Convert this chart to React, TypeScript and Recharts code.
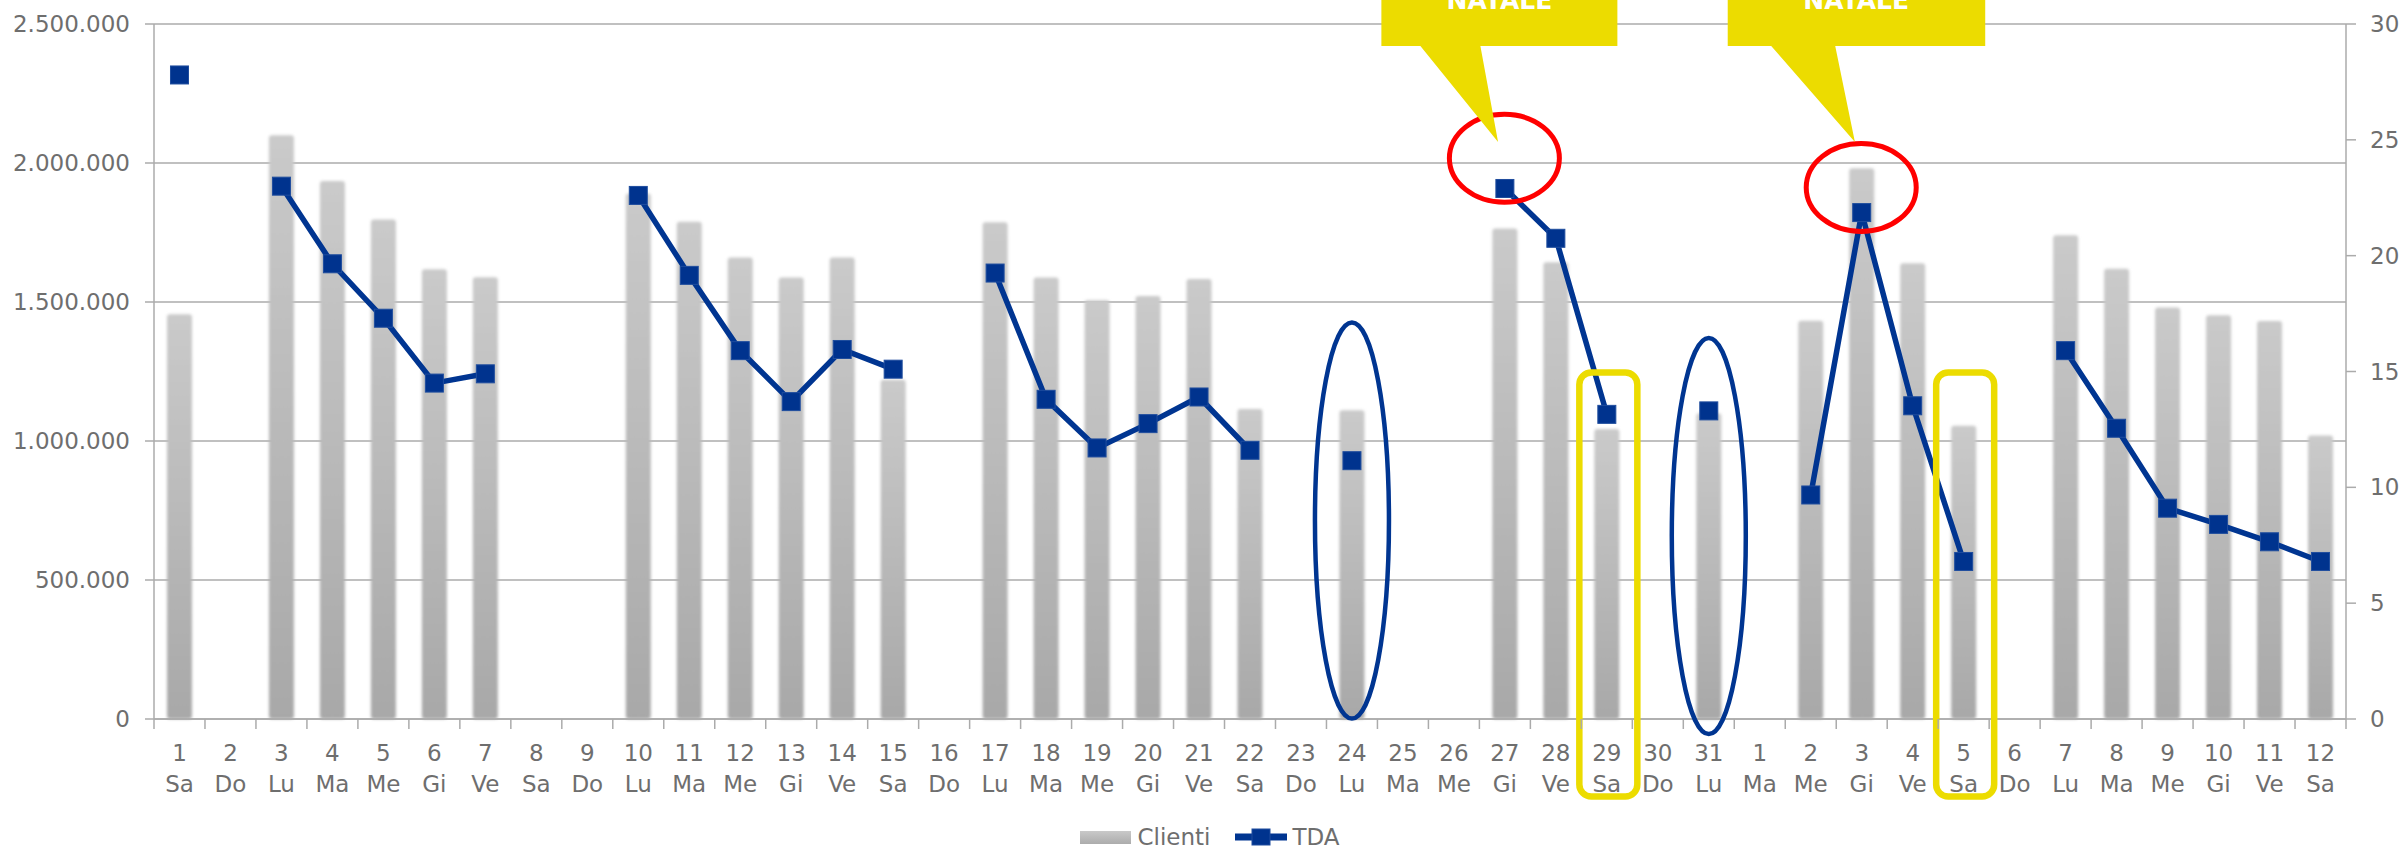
import { ComposedChart, Bar, Line, XAxis, YAxis, CartesianGrid, Legend, ReferenceDot } from 'recharts'

// dicembre 1..31, gennaio 1..12
const DAYS = [
  1, 2, 3, 4, 5, 6, 7, 8, 9, 10, 11, 12, 13, 14, 15, 16, 17, 18, 19, 20, 21, 22, 23, 24, 25, 26, 27, 28, 29, 30, 31,
  1, 2, 3, 4, 5, 6, 7, 8, 9, 10, 11, 12,
]
const MONTHS = [
  12, 12, 12, 12, 12, 12, 12, 12, 12, 12, 12, 12, 12, 12, 12, 12, 12, 12, 12, 12, 12, 12, 12, 12, 12, 12, 12, 12, 12, 12, 12,
  1, 1, 1, 1, 1, 1, 1, 1, 1, 1, 1, 1,
]
const WEEKDAYS = [
  'Sa', 'Do', 'Lu', 'Ma', 'Me', 'Gi', 'Ve', 'Sa', 'Do', 'Lu', 'Ma', 'Me', 'Gi', 'Ve', 'Sa', 'Do',
  'Lu', 'Ma', 'Me', 'Gi', 'Ve', 'Sa', 'Do', 'Lu', 'Ma', 'Me', 'Gi', 'Ve', 'Sa', 'Do', 'Lu',
  'Ma', 'Me', 'Gi', 'Ve', 'Sa', 'Do', 'Lu', 'Ma', 'Me', 'Gi', 'Ve', 'Sa',
]
const CLIENTI = [
  1456000, null, 2100000, 1935000, 1797000, 1618000, 1589000, null, null, 1890000, 1789000, 1660000, 1588000,
  1660000, 1220000, null, 1787000, 1588000, 1506000, 1522000, 1583000, 1115000, null, 1111000, null, null,
  1764000, 1643000, 1043000, null, 1100000,
  null, 1433000, 1981000, 1639000, 1055000, null, 1740000, 1620000, 1480000, 1452000, 1432000, 1020000,
]
const TDA = [
  27.8, null, 23.0, 19.65, 17.3, 14.5, 14.9, null, null, 22.6, 19.15, 15.9, 13.7,
  15.95, 15.1, null, 19.25, 13.8, 11.7, 12.75, 13.9, 11.6, null, 11.15, null, null,
  22.9, 20.75, 13.15, null, 13.3,
  null, 9.67, 21.86, 13.52, 6.8, null, 15.9, 12.55, 9.1, 8.4, 7.65, 6.8,
]
const LEFT_TICKS = [0, 500000, 1000000, 1500000, 2000000, 2500000]
const RIGHT_TICKS = [0, 5, 10, 15, 20, 25, 30]

// annotazioni (categoria + valore asse sinistro)
const ELLIPSES = [
  { at: '24/12', y: 714000 },
  { at: '31/12', y: 658000 },
]
const CIRCLES = [
  { at: '27/12', y: 2017000 },
  { at: '3/1', y: 1912000 },
]
const BOXES = [
  { at: '29/12', y: 484000 },
  { at: '5/1', y: 484000 },
]
const CALLOUTS = [
  { at: '27/12', y: 2075500, text: 'NATALE', left: -123.5, right: 112.5, baseL: -84.5, baseR: -24.5 },
  { at: '3/1', y: 2075500, text: 'NATALE', left: -134, right: 123.5, baseL: -90.5, baseR: -26.5 },
]

const W = 2404
const H = 851
const LEFT_W = 154
const RIGHT_W = 58
const BAND = (W - LEFT_W - RIGHT_W) / DAYS.length
const FONT = '"DejaVu Sans", Verdana, sans-serif'
const TEXT = '#6e6e6e'
const AXIS = '#ababab'
const NAVY = '#003591'
const YELLOW = '#ecdc00'

const data = DAYS.map((d, i) => ({
  key: `${d}/${MONTHS[i]}`,
  clienti: CLIENTI[i],
  tda: TDA[i],
}))

const itNum = (v: number) => String(v).replace(/\B(?=(\d{3})+(?!\d))/g, '.')

function DayTick({ x, y, payload, index }: any) {
  const i = typeof index === 'number' ? index : data.findIndex(r => r.key === payload.value)
  const left = x - BAND / 2
  return (
    <g>
      <line x1={left} y1={y} x2={left} y2={y + 10} stroke={AXIS} strokeWidth={1.5} />
      {i === DAYS.length - 1 && (
        <line x1={x + BAND / 2} y1={y} x2={x + BAND / 2} y2={y + 10} stroke={AXIS} strokeWidth={1.5} />
      )}
      <text x={x} y={y + 42} textAnchor="middle" fontSize={23} fontFamily={FONT} fill={TEXT}>{DAYS[i]}</text>
      <text x={x} y={y + 73} textAnchor="middle" fontSize={23} fontFamily={FONT} fill={TEXT}>{WEEKDAYS[i]}</text>
    </g>
  )
}

function SoftBar(props: any) {
  const { x, y, width, height } = props
  if (!height || height <= 0) return <g />
  return <rect x={x} y={y} width={width} height={height} rx={3} fill="url(#barGrad)" filter="url(#barSoft)" />
}

function SquareDot(props: any) {
  const { cx, cy, value, index } = props
  if (value == null || cx == null || cy == null) return <g key={`d${index}`} />
  return (
    <rect key={`d${index}`} x={cx - 9} y={cy - 9} width={18} height={18} fill="#00338e" stroke="#1f4d9e" strokeWidth={1} />
  )
}

function LegendContent() {
  return (
    <div style={{
      display: 'flex', justifyContent: 'center', alignItems: 'center', height: 28,
      fontFamily: FONT, fontSize: 23, color: TEXT, paddingLeft: 16,
    }}>
      <svg width={51} height={13} style={{ marginRight: 6 }}>
        <defs>
          <linearGradient id="legGrad" x1="0" y1="0" x2="0" y2="1">
            <stop offset="0%" stopColor="#c9c9c9" />
            <stop offset="100%" stopColor="#acacac" />
          </linearGradient>
        </defs>
        <rect width={51} height={13} fill="url(#legGrad)" />
      </svg>
      <span style={{ marginRight: 25 }}>Clienti</span>
      <svg width={52} height={20} style={{ marginRight: 5 }}>
        <line x1={0} y1={10} x2={52} y2={10} stroke={NAVY} strokeWidth={7} />
        <rect x={17} y={2} width={18} height={16} fill="#00338e" stroke="#1f4d9e" strokeWidth={1} />
      </svg>
      <span>TDA</span>
    </div>
  )
}

export default function App() {
  return (
    <div style={{ position: 'absolute', left: 0, top: 0 }}>
      <ComposedChart width={W} height={H} data={data} margin={{ top: 24, right: 0, bottom: 0, left: 0 }}>
        <defs>
          <linearGradient id="barGrad" x1="0" y1="0" x2="0" y2="1">
            <stop offset="0%" stopColor="#cacaca" />
            <stop offset="100%" stopColor="#a8a8a8" />
          </linearGradient>
          <filter id="barSoft" x="-30%" y="-2%" width="160%" height="104%">
            <feGaussianBlur stdDeviation="1.4" />
          </filter>
        </defs>
        <CartesianGrid yAxisId="left" vertical={false} stroke={AXIS} strokeWidth={1.5} />
        <XAxis
          dataKey="key"
          interval={0}
          height={104}
          tick={DayTick}
          tickLine={false}
          tickSize={0}
          tickMargin={0}
          axisLine={{ stroke: AXIS, strokeWidth: 1.5 }}
        />
        <YAxis
          yAxisId="left"
          domain={[0, 2500000]}
          ticks={LEFT_TICKS}
          tickFormatter={itNum}
          width={LEFT_W}
          tickSize={9}
          tickMargin={15}
          tick={{ fontSize: 23, fill: TEXT, fontFamily: FONT }}
          axisLine={{ stroke: AXIS, strokeWidth: 1.5 }}
          tickLine={{ stroke: AXIS, strokeWidth: 1.5 }}
        />
        <YAxis
          yAxisId="right"
          orientation="right"
          domain={[0, 30]}
          ticks={RIGHT_TICKS}
          width={RIGHT_W}
          tickSize={10}
          tickMargin={14}
          tick={{ fontSize: 23, fill: TEXT, fontFamily: FONT }}
          axisLine={{ stroke: AXIS, strokeWidth: 1.5 }}
          tickLine={{ stroke: AXIS, strokeWidth: 1.5 }}
        />
        <Legend verticalAlign="bottom" content={LegendContent} />
        <Bar yAxisId="left" dataKey="clienti" name="Clienti" barSize={25} shape={SoftBar} isAnimationActive={false} />
        <Line
          yAxisId="right"
          dataKey="tda"
          name="TDA"
          type="linear"
          stroke={NAVY}
          strokeWidth={5.5}
          connectNulls={false}
          dot={SquareDot}
          activeDot={false}
          isAnimationActive={false}
        />
        {ELLIPSES.map(e => (
          <ReferenceDot
            key={`e${e.at}`}
            yAxisId="left"
            x={e.at}
            y={e.y}
            ifOverflow="visible"
            shape={(p: any) => (
              <ellipse cx={p.cx} cy={p.cy} rx={37} ry={198} fill="none" stroke={NAVY} strokeWidth={4.5} />
            )}
          />
        ))}
        {BOXES.map(b => (
          <ReferenceDot
            key={`b${b.at}`}
            yAxisId="left"
            x={b.at}
            y={b.y}
            ifOverflow="visible"
            shape={(p: any) => (
              <rect x={p.cx - 27.5} y={p.cy - 212} width={58} height={424} rx={12}
                fill="none" stroke={YELLOW} strokeWidth={6.5} />
            )}
          />
        ))}
        {CIRCLES.map(c => (
          <ReferenceDot
            key={`c${c.at}`}
            yAxisId="left"
            x={c.at}
            y={c.y}
            ifOverflow="visible"
            shape={(p: any) => (
              <ellipse cx={p.cx - 0.5} cy={p.cy} rx={55} ry={44} fill="none" stroke="#ff0000" strokeWidth={5} />
            )}
          />
        ))}
        {CALLOUTS.map(c => (
          <ReferenceDot
            key={`n${c.at}`}
            yAxisId="left"
            x={c.at}
            y={c.y}
            ifOverflow="visible"
            shape={(p: any) => {
              const tipX = p.cx - 6.8
              const bottom = p.cy - 96
              const top = p.cy - 200
              const pts = [
                [p.cx + c.left, top], [p.cx + c.right, top], [p.cx + c.right, bottom],
                [p.cx + c.baseR, bottom], [tipX, p.cy], [p.cx + c.baseL, bottom], [p.cx + c.left, bottom],
              ].map(q => q.join(',')).join(' ')
              return (
                <g>
                  <polygon points={pts} fill={YELLOW} />
                  <text x={p.cx - 5.5} y={p.cy - 133} textAnchor="middle" fontSize={25} fontWeight="bold"
                    fontFamily={FONT} fill="#ffffff">{c.text}</text>
                </g>
              )
            }}
          />
        ))}
      </ComposedChart>
    </div>
  )
}
